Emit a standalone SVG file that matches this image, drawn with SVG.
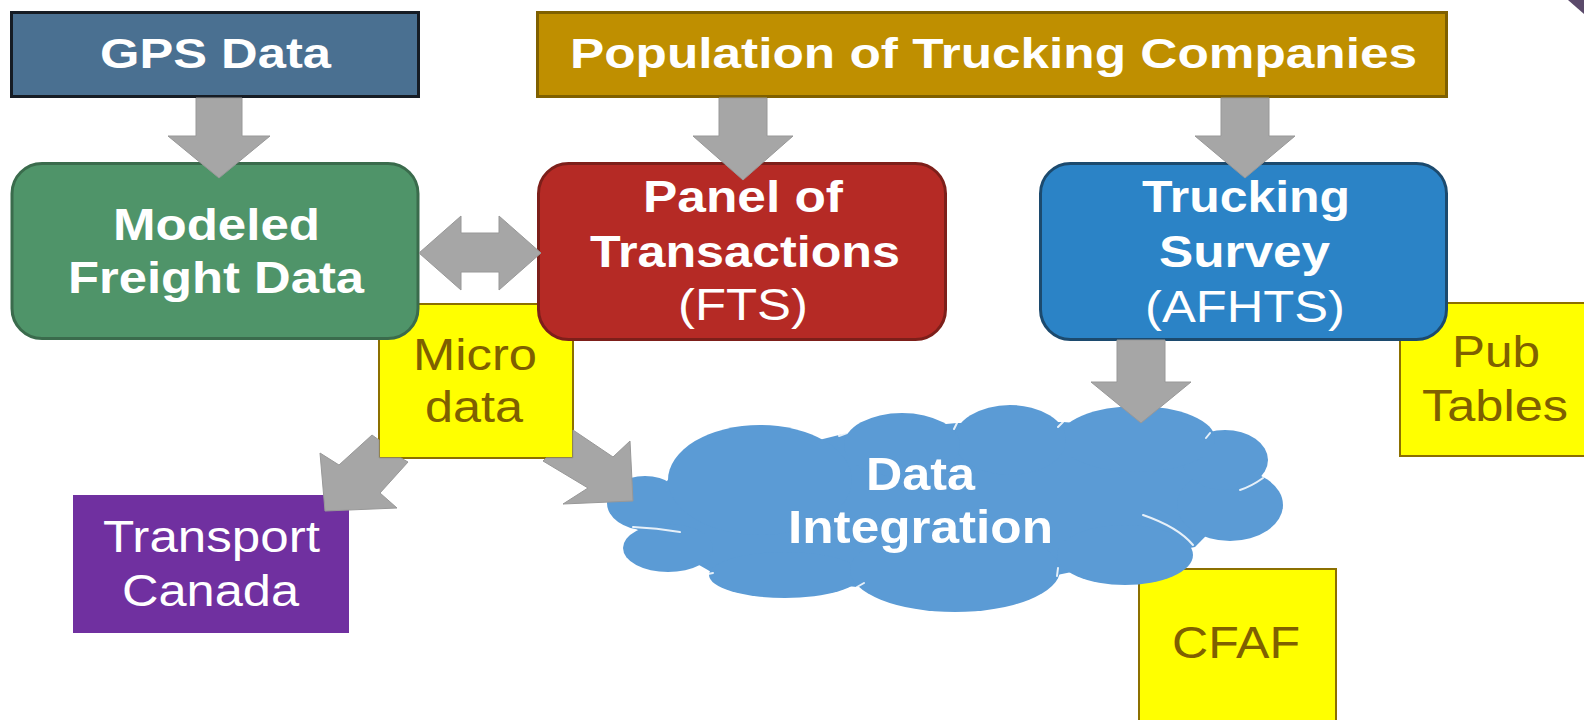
<svg xmlns="http://www.w3.org/2000/svg" width="1584" height="720" viewBox="0 0 1584 720">
<style>
  .t { font-family: "Liberation Sans", Arial, sans-serif; }
  .b { font-weight: bold; }
  .w { fill: #ffffff; }
  .y { fill: #7f6000; }
  .ybox { fill: #ffff00; stroke: #8c7000; stroke-width: 2; }
  .arrow { fill: #a6a6a6; stroke: #989898; stroke-width: 1; }
  .lobe { fill: #5b9bd5; }
  .cl { fill: none; stroke: #ffffff; stroke-width: 2; stroke-linecap: round; opacity: 0.85; }
</style>
<rect width="1584" height="720" fill="#ffffff"/>
<polygon points="1568,0 1584,0 1584,14" fill="#5b4a6b"/>

<g id="microdata">
  <rect class="ybox" x="379" y="304" width="194" height="154"/>
  <text class="t y" font-size="44" x="475" y="370" text-anchor="middle" textLength="124" lengthAdjust="spacingAndGlyphs">Micro</text>
  <text class="t y" font-size="44" x="474" y="422" text-anchor="middle" textLength="98" lengthAdjust="spacingAndGlyphs">data</text>
</g>
<g id="pubtables">
  <rect class="ybox" x="1400" y="303" width="190" height="153"/>
  <text class="t y" font-size="44" x="1496" y="367" text-anchor="middle" textLength="88" lengthAdjust="spacingAndGlyphs">Pub</text>
  <text class="t y" font-size="44" x="1495" y="421" text-anchor="middle" textLength="146" lengthAdjust="spacingAndGlyphs">Tables</text>
</g>
<g id="cfaf">
  <rect class="ybox" x="1139" y="569" width="197" height="160"/>
  <text class="t y" font-size="44" x="1236" y="658" text-anchor="middle" textLength="128" lengthAdjust="spacingAndGlyphs">CFAF</text>
</g>

<g id="dataintegration">
  <polygon class="lobe" points="633,527 670,477 847,433 957,423 1063,422 1210,433 1263,478 1195,547 1057,575 857,587 713,573"/>
  <ellipse class="lobe" cx="645" cy="503" rx="38" ry="27"/>
  <ellipse class="lobe" cx="668" cy="548" rx="45" ry="24"/>
  <ellipse class="lobe" cx="785" cy="575" rx="76" ry="23"/>
  <ellipse class="lobe" cx="955" cy="570" rx="105" ry="42"/>
  <ellipse class="lobe" cx="1125" cy="555" rx="68" ry="30"/>
  <ellipse class="lobe" cx="1230" cy="505" rx="53" ry="36"/>
  <ellipse class="lobe" cx="1225" cy="460" rx="43" ry="30"/>
  <ellipse class="lobe" cx="1137" cy="439" rx="78" ry="33"/>
  <ellipse class="lobe" cx="1010" cy="440" rx="56" ry="35"/>
  <ellipse class="lobe" cx="902" cy="445" rx="58" ry="32"/>
  <ellipse class="lobe" cx="760" cy="480" rx="92" ry="55"/>
  <path class="cl" d="M633 527 Q657 528 680 532"/>
  <path class="cl" d="M1143 515 Q1178 527 1193 545"/>
  <path class="cl" d="M1263 478 Q1252 486 1240 490"/>
  <path class="cl" d="M847 433 l-8 3 M957 423 l-3 6 M1063 422 l-5 5 M1210 433 l-4 5 M1057 576 l1 -8 M857 587 l7 -4 M713 573 l-10 2"/>
  <text class="t b w" font-size="46" x="920.5" y="490" text-anchor="middle" textLength="109" lengthAdjust="spacingAndGlyphs">Data</text>
  <text class="t b w" font-size="46" x="920.5" y="543" text-anchor="middle" textLength="265" lengthAdjust="spacingAndGlyphs">Integration</text>
</g>

<g id="gpsdata">
  <rect x="11.5" y="12.5" width="407" height="84" fill="#4a7091" stroke="#161c24" stroke-width="3"/>
  <text class="t b w" font-size="43" x="215.5" y="68" text-anchor="middle" textLength="231" lengthAdjust="spacingAndGlyphs">GPS Data</text>
</g>
<g id="population">
  <rect x="537.5" y="12.5" width="909" height="84" fill="#bf8f00" stroke="#7f6000" stroke-width="3"/>
  <text class="t b w" font-size="43" x="993.5" y="68" text-anchor="middle" textLength="847" lengthAdjust="spacingAndGlyphs">Population of Trucking Companies</text>
</g>
<g id="modeled">
  <rect x="12" y="163.5" width="406" height="175" rx="30" ry="30" fill="#4f9469" stroke="#3a6b4c" stroke-width="3"/>
  <text class="t b w" font-size="44" x="216.5" y="240" text-anchor="middle" textLength="207" lengthAdjust="spacingAndGlyphs">Modeled</text>
  <text class="t b w" font-size="44" x="216" y="293" text-anchor="middle" textLength="296" lengthAdjust="spacingAndGlyphs">Freight Data</text>
</g>
<g id="panel">
  <rect x="538.5" y="163.5" width="407" height="176" rx="30" ry="30" fill="#b52a25" stroke="#7d1f1a" stroke-width="3"/>
  <text class="t b w" font-size="44" x="743" y="212" text-anchor="middle" textLength="200" lengthAdjust="spacingAndGlyphs">Panel of</text>
  <text class="t b w" font-size="44" x="745" y="267" text-anchor="middle" textLength="310" lengthAdjust="spacingAndGlyphs">Transactions</text>
  <text class="t w" font-size="44" x="743" y="320" text-anchor="middle" textLength="130" lengthAdjust="spacingAndGlyphs">(FTS)</text>
</g>
<g id="survey">
  <rect x="1040.5" y="163.5" width="406" height="176" rx="30" ry="30" fill="#2b83c6" stroke="#1c4a6e" stroke-width="3"/>
  <text class="t b w" font-size="44" x="1246" y="212" text-anchor="middle" textLength="208" lengthAdjust="spacingAndGlyphs">Trucking</text>
  <text class="t b w" font-size="44" x="1244.5" y="267" text-anchor="middle" textLength="171" lengthAdjust="spacingAndGlyphs">Survey</text>
  <text class="t w" font-size="44" x="1245" y="322" text-anchor="middle" textLength="200" lengthAdjust="spacingAndGlyphs">(AFHTS)</text>
</g>
<g id="transport">
  <rect x="73" y="495" width="276" height="138" fill="#7030a0"/>
  <text class="t w" font-size="44" x="211.5" y="552" text-anchor="middle" textLength="217" lengthAdjust="spacingAndGlyphs">Transport</text>
  <text class="t w" font-size="44" x="210.5" y="606" text-anchor="middle" textLength="177" lengthAdjust="spacingAndGlyphs">Canada</text>
</g>

<g id="connectors">
  <polygon class="arrow" points="196,98 242,98 242,136 270,136 219,178 168,136 196,136"/>
  <polygon class="arrow" points="719,98 767,98 767,136 793,136 743,180 693,136 719,136"/>
  <polygon class="arrow" points="1221,98 1269,98 1269,136 1295,136 1245,178 1195,136 1221,136"/>
  <polygon class="arrow" points="1117,340 1165,340 1165,382 1191,382 1141,423 1091,382 1117,382"/>
  <polygon class="arrow" points="419,253 461,216 461,233 499,233 499,216 541,253 499,290 499,272 461,272 461,290"/>
  <polygon class="arrow" points="372,435 379,440 379,458 401,458 408,462 380,493 397,508 325,511 320,453 339,465"/>
  <polygon class="arrow" points="573,430 613,457 630,441 633,501 563,504 588,488 543,461 546,458 573,458"/>
</g>
</svg>
